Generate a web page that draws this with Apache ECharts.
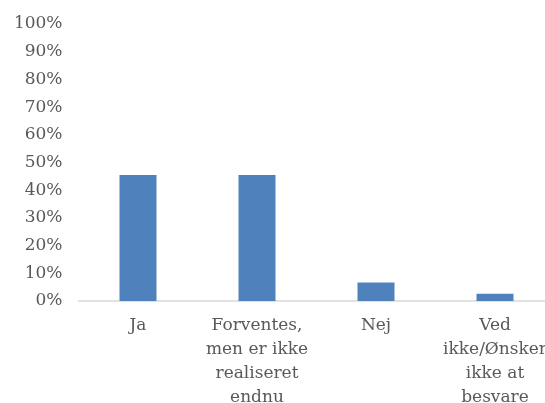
<!DOCTYPE html>
<html>
<head>
<meta charset="utf-8">
<script src="https://cdn.jsdelivr.net/npm/echarts@6/dist/echarts.min.js"></script>
<style>
  html, body { margin: 0; padding: 0; background: #fff; }
  #chart { width: 545px; height: 403px; }
</style>
</head>
<body>
<div id="chart"></div>
<script>
// svar-kategorier og andele (%)
const categories = ['Ja', 'Forventes,\nmen er ikke\nrealiseret\nendnu', 'Nej', 'Ved\nikke/Ønsker\nikke at\nbesvare'];
const values = [45.5, 45.5, 6.7, 2.6];
const yTicks = [0, 10, 20, 30, 40, 50, 60, 70, 80, 90, 100];

const labelFont = 'DejaVu Serif';
const labelColor = '#595959';

let chart = echarts.init(document.getElementById('chart'));

let option = {
    animation: false,
    grid: {
        left: 78.5,
        right: -9.5,
        top: 24,
        bottom: 102,
        containLabel: false,
        outerBoundsMode: 'none'
    },
    xAxis: {
        type: 'category',
        data: categories,
        axisLine: { show: true, lineStyle: { color: '#d9d9d9', width: 1.5 } },
        axisTick: { show: false },
        axisLabel: {
            interval: 0,
            margin: 13,
            color: labelColor,
            fontFamily: labelFont,
            fontSize: 17,
            lineHeight: 24,
            align: 'center'
        }
    },
    yAxis: {
        type: 'value',
        min: yTicks[0],
        max: yTicks[yTicks.length - 1],
        interval: 10,
        splitLine: { show: false },
        axisLine: { show: false },
        axisTick: { show: false },
        axisLabel: {
            margin: 16,
            color: labelColor,
            fontFamily: labelFont,
            fontSize: 17,
            formatter: '{value}%'
        }
    },
    series: [{
        type: 'bar',
        data: values,
        barWidth: 37,
        itemStyle: { color: '#4f81bd' }
    }]
};

chart.setOption(option);
</script>
</body>
</html>
